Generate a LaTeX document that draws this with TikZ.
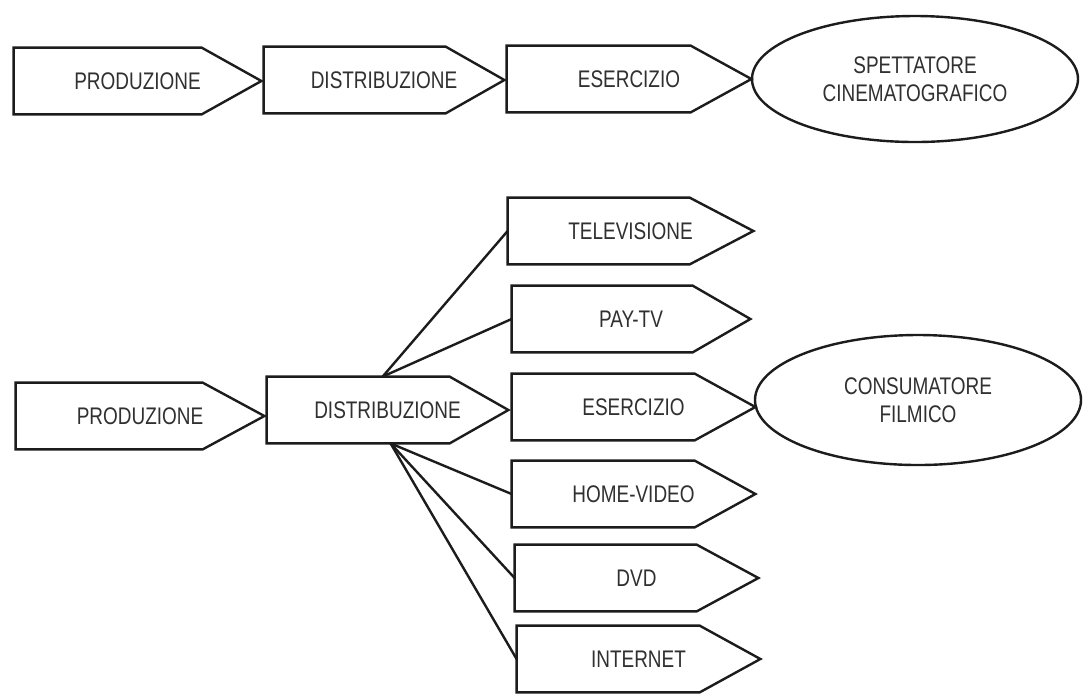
\documentclass[tikz,border=0pt]{standalone}
\usepackage{fontspec}
\setmainfont{Liberation Sans}[FakeStretch=0.79]
\usetikzlibrary{calc,shapes.geometric}
\definecolor{ink}{HTML}{1C1C1C}
\definecolor{txt}{HTML}{303030}
\tikzset{
  boxtext/.style={draw=none, inner sep=0pt, minimum height=33pt, text=txt,
    font=\fontsize{12pt}{14pt}\selectfont},
  outline/.style={draw=ink, line width=1.2pt, line join=miter},
  oval/.style={ellipse, draw=ink, line width=1.2pt, inner sep=0pt, text=txt,
    align=center, font=\fontsize{12pt}{14pt}\selectfont},
  fan/.style={draw=ink, line width=1.2pt}
}
% name, left x, body right x, tip x, centre y, text
\newcommand\arrbox[6]{%
  \node[boxtext, minimum width={(#4-#2)*0.5pt}] (#1) at ({(#2+#4)/2},#5) {#6\hspace{14pt}};
  \draw[outline] (#1.north west) -- ($(#1.north west)+(#3-#2,0)$) -- (#1.east)
    -- ($(#1.south west)+(#3-#2,0)$) -- (#1.south west) -- cycle;}
\begin{document}
\begin{tikzpicture}[x=0.5pt,y=-0.5pt]
  \fill[white] (0,0) rectangle (1087,693);
  \useasboundingbox (0,0) rectangle (1087,693);
  % top chain
  \arrbox{pa}{14}{202}{261}{81}{PRODUZIONE}
  \arrbox{da}{264}{446}{504}{80}{DISTRIBUZIONE}
  \arrbox{ea}{507}{691}{751}{79}{ESERCIZIO}
  \node[oval, minimum width=163pt, minimum height=63pt] (spet) at (915,79)
    {SPETTATORE\\CINEMATOGRAFICO};
  % bottom chain
  \arrbox{pb}{16}{203}{264}{416}{PRODUZIONE}
  \arrbox{db}{267}{450}{508}{410}{DISTRIBUZIONE}
  \arrbox{tv}{508}{690}{753}{231}{TELEVISIONE}
  \arrbox{pay}{512}{693}{750}{319}{PAY-TV}
  \arrbox{eb}{512}{695}{755}{407}{ESERCIZIO}
  \arrbox{hv}{512}{695}{755}{494}{HOME-VIDEO}
  \arrbox{dvd}{515}{697}{758}{578}{DVD}
  \arrbox{net}{517}{700}{760}{659}{INTERNET}
  \node[oval, minimum width=163pt, minimum height=65pt] (cons) at (918,400)
    {CONSUMATORE\\FILMICO};
  % fan connectors
  \coordinate (fanT) at ($(db.north west)+(116,0)$);
  \coordinate (fanB) at ($(db.south west)+(124,0)$);
  \draw[fan] (fanT) -- (tv.west);
  \draw[fan] (fanT) -- (pay.west);
  \draw[fan] (fanB) -- (hv.west);
  \draw[fan] (fanB) -- (dvd.west);
  \draw[fan] (fanB) -- (net.west);
\end{tikzpicture}
\end{document}
